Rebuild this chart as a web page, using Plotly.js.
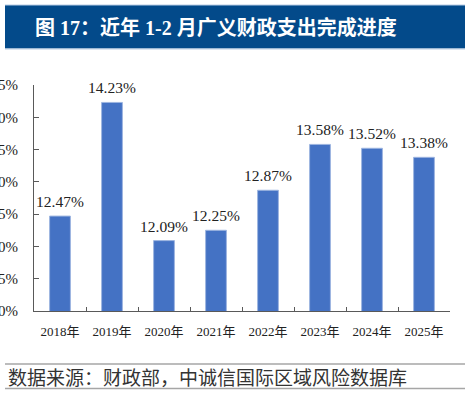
<!DOCTYPE html>
<html>
<head>
<meta charset="utf-8">
<script src="https://cdn.plot.ly/plotly-3.0.1.min.js"></script>
<style>
html,body{margin:0;padding:0;background:#fff;}
#chart{width:470px;height:395px;}
</style>
</head>
<body>
<div id="chart"></div>
<script>
const years = ["2018年","2019年","2020年","2021年","2022年","2023年","2024年","2025年"];
const progress = [12.47, 14.23, 12.09, 12.25, 12.87, 13.58, 13.52, 13.38];
const yTickVals = [11.0, 11.5, 12.0, 12.5, 13.0, 13.5, 14.0, 14.5];
const yTickText = ["11.0%","11.5%","12.0%","12.5%","13.0%","13.5%","14.0%","14.5%"];
const titleText = "图 17：近年 1-2 月广义财政支出完成进度";
const sourceText = "数据来源：财政部，中诚信国际区域风险数据库";

const W = 470, H = 395;
const L = 34, R = 450, T = 85, B = 311;
const px = x => (x - L) / (R - L);
const py = y => (B - y) / (B - T);

const serif = '"Liberation Serif", "Times New Roman", "Noto Sans CJK SC", serif';
const cjk = '"Noto Sans CJK SC", sans-serif';

const trace = {
  type: 'bar',
  x: years,
  y: progress,
  marker: {color: '#4472C4', line: {color: '#9DB5E0', width: 1}},
  cliponaxis: false,
  hoverinfo: 'skip'
};

const labelAnns = years.map((yr, i) => ({
  x: yr, y: progress[i], xref: 'x', yref: 'y',
  text: progress[i].toFixed(2) + '%',
  showarrow: false, xanchor: 'center', yanchor: 'bottom', yshift: 4,
  font: {family: serif, size: 15.5, color: '#222'}
}));

const layout = {
  width: W, height: H,
  margin: {l: L, r: W - R, t: T, b: H - B, pad: 0},
  paper_bgcolor: '#fff',
  plot_bgcolor: '#fff',
  showlegend: false,
  bargap: 0.6,
  xaxis: {
    type: 'category',
    showline: true, linecolor: '#595959', linewidth: 1,
    ticks: 'inside', tickson: 'boundaries', ticklen: 4, tickcolor: '#595959',
    tickfont: {family: serif, size: 13, color: '#222'},
    ticklabelstandoff: 8,
    showgrid: false, zeroline: false, fixedrange: true
  },
  yaxis: {
    range: [11.0, 14.5],
    tickmode: 'array', tickvals: yTickVals, ticktext: yTickText,
    showline: true, linecolor: '#595959', linewidth: 1,
    ticks: 'inside', ticklen: 5, tickcolor: '#595959',
    tickfont: {family: serif, size: 15, color: '#222'},
    ticklabelstandoff: 12,
    showgrid: false, zeroline: false, fixedrange: true
  },
  shapes: [
    {type: 'rect', xref: 'paper', yref: 'paper', x0: px(5), x1: px(465), y0: py(48.5), y1: py(5),
     fillcolor: '#034A8A', line: {width: 0}, layer: 'below'},
    {type: 'line', xref: 'paper', yref: 'paper', x0: px(5), x1: px(465), y0: py(5), y1: py(5),
     line: {color: '#B8CCE4', width: 1}},
    {type: 'line', xref: 'paper', yref: 'paper', x0: px(5), x1: px(465), y0: py(49), y1: py(49),
     line: {color: '#B8CCE4', width: 1}},
    {type: 'line', xref: 'paper', yref: 'paper', x0: px(5), x1: px(465), y0: py(364), y1: py(364),
     line: {color: '#A6A6A6', width: 1.5}},
    {type: 'line', xref: 'paper', yref: 'paper', x0: px(5), x1: px(465), y0: py(388.5), y1: py(388.5),
     line: {color: '#A6A6A6', width: 1.5}}
  ],
  annotations: [
    {text: '<b>' + titleText + '</b>', xref: 'paper', yref: 'paper', x: px(33), y: py(27),
     xanchor: 'left', yanchor: 'middle', showarrow: false,
     font: {family: serif, size: 20, color: '#fff'}},
    {text: sourceText, xref: 'paper', yref: 'paper', x: px(6), y: py(376),
     xanchor: 'left', yanchor: 'middle', showarrow: false,
     font: {family: cjk, size: 19, color: '#333'}}
  ].concat(labelAnns)
};

Plotly.newPlot('chart', [trace], layout, {displayModeBar: false, staticPlot: true});
</script>
</body>
</html>
